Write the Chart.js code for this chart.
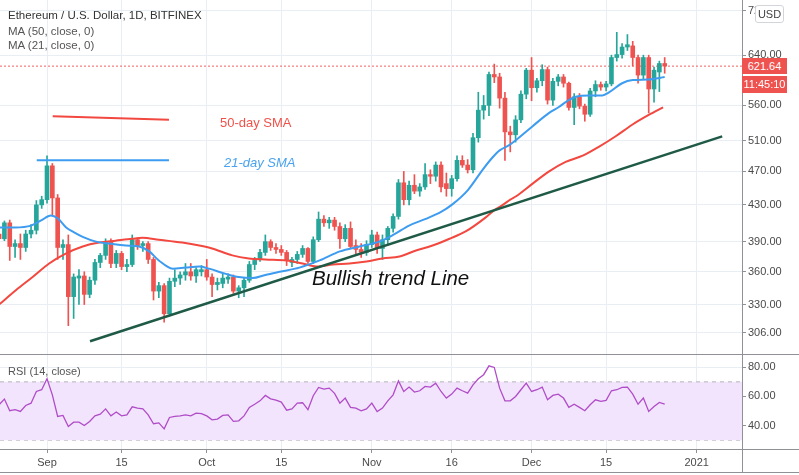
<!DOCTYPE html>
<html>
<head>
<meta charset="utf-8">
<title>Ethereum / U.S. Dollar, 1D</title>
<script src="https://cdn.jsdelivr.net/npm/chart.js@4.4.0/dist/chart.umd.min.js"></script>
<style>
  html, body { margin: 0; padding: 0; background: #fff; }
  #wrap { position: relative; width: 799px; height: 475px; overflow: hidden; font-family: 'Liberation Sans', Arial, sans-serif; }
  #priceChart { position: absolute; left: 0; top: 0; }
  #rsiChart { position: absolute; left: 0; top: 355px; }
  .txt { position: absolute; white-space: nowrap; line-height: 16px; height: 16px; }
  .hline { position: absolute; left: 0; width: 799px; height: 1px; background: #8f9196; }
  .vline { position: absolute; width: 1px; background: #8f9196; }
  .tag { position: absolute; color: #fff; background: #ef5350; font-size: 11px; text-align: center; }
</style>
</head>
<body>
<div id="wrap">
  <canvas id="priceChart" width="799" height="355"></canvas>
  <canvas id="rsiChart" width="799" height="120"></canvas>

  <div class="txt" style="left:8px; top:7px; font-size:11.5px; color:#333;">Ethereum / U.S. Dollar, 1D, BITFINEX</div>
  <div class="txt" style="left:8px; top:23px; font-size:11.5px; color:#555;">MA (50, close, 0)</div>
  <div class="txt" style="left:8px; top:37px; font-size:11.5px; color:#555;">MA (21, close, 0)</div>
  <div class="txt" style="left:8px; top:363px; font-size:11px; color:#555;">RSI (14, close)</div>

  <div class="txt" style="left:220px; top:115px; font-size:13px; color:#f0524a;">50-day SMA</div>
  <div class="txt" style="left:224px; top:155px; font-size:13px; color:#4aa3ee; font-style:italic;">21-day SMA</div>
  <div class="txt" style="left:312px; top:267px; height:22px; line-height:22px; font-size:20.5px; color:#111; font-style:italic;">Bullish trend Line</div>

  <div class="hline" style="top:354px;"></div>
  <div class="hline" style="top:449px;"></div>
  <div class="hline" style="top:472px;"></div>
  <div class="vline" style="left:742px; top:0; height:473px;"></div>

  <div class="tag" style="left:742px; top:58px; width:45px; height:16px; line-height:16px;">621.64</div>
  <div class="tag" style="left:742px; top:76px; width:45px; height:17px; line-height:17px;">11:45:10</div>
  <div class="txt" style="left:755px; top:5px; width:27px; height:16px; background:#fff; border:1px solid #d3d5da; border-radius:3px; font-size:11px; color:#444; text-align:center;">USD</div>
</div>

<script>
// days counted from Sep 1 2020 (day 0); first candle is Aug 23
const firstDay = -9;

const opens = [
  398, 393, 410, 385, 388, 384, 398, 402, 430,
  436, 477, 438, 384, 387, 337, 354, 356, 339, 352,
  369, 376, 390, 368, 378, 365, 367, 392, 386, 388,
  372, 342, 347, 322, 351, 354, 357, 360, 356, 360,
  362, 355, 348, 349, 353, 355, 342, 345, 352, 367,
  372, 379, 390, 384, 382, 379, 369, 372, 377, 383,
  370, 392, 414, 410, 413, 406, 393, 404, 386, 382,
  379, 387, 397, 383, 392, 404, 417, 456, 436, 453,
  446, 451, 466, 464, 478, 455, 449, 461, 484, 478,
  472, 514, 553, 560, 608, 604, 571, 522, 518, 539,
  577, 615, 587, 598, 616, 568, 597, 604, 594, 557,
  573, 559, 547, 582, 592, 588, 593, 636, 641, 654,
  656, 636, 607, 636, 585, 612, 626
];
const highs = [
  402, 412, 413, 392, 398, 402, 408, 435, 440,
  490, 480, 442, 392, 397, 358, 362, 360, 355, 372,
  378, 393, 393, 381, 380, 372, 397, 394, 390, 390,
  374, 350, 349, 354, 362, 360, 368, 368, 364, 366,
  372, 358, 354, 358, 358, 357, 347, 354, 370, 374,
  382, 397, 392, 388, 386, 381, 374, 380, 386, 384,
  395, 422, 418, 416, 416, 410, 408, 411, 392, 388,
  391, 402, 400, 397, 406, 420, 460, 470, 458, 466,
  455, 480, 472, 482, 482, 468, 465, 490, 490, 485,
  520, 580, 575, 612, 625, 610, 580, 530, 545, 582,
  618, 636, 602, 624, 620, 602, 608, 608, 596, 578,
  578, 562, 586, 598, 596, 597, 640, 680, 660, 676,
  664, 640, 640, 640, 620, 630, 636
];
const lows = [
  390, 391, 371, 374, 372, 380, 394, 398, 426,
  432, 418, 372, 372, 312, 318, 330, 330, 336, 348,
  364, 372, 364, 364, 362, 360, 365, 382, 380, 368,
  334, 336, 315, 320, 346, 348, 352, 352, 350, 356,
  352, 337, 343, 345, 349, 340, 336, 337, 350, 362,
  370, 376, 381, 378, 376, 366, 365, 368, 374, 368,
  368, 390, 406, 404, 402, 383, 390, 383, 377, 374,
  376, 384, 378, 372, 386, 400, 414, 430, 430, 443,
  440, 448, 455, 458, 445, 440, 440, 458, 475, 468,
  468, 508, 540, 545, 595, 556, 484, 495, 508, 535,
  570, 567, 580, 590, 562, 560, 590, 588, 553, 532,
  555, 537, 544, 573, 583, 582, 590, 630, 635, 648,
  622, 594, 600, 549, 565, 581, 610
];
const closes = [
  393, 410, 385, 388, 384, 398, 402, 430, 436,
  477, 438, 384, 387, 337, 355, 356, 339, 352, 369,
  376, 390, 368, 378, 365, 367, 392, 386, 388, 372,
  342, 347, 322, 351, 354, 357, 360, 356, 362, 362,
  355, 348, 350, 354, 355, 342, 345, 352, 367, 371,
  379, 390, 384, 382, 379, 371, 372, 377, 383, 370,
  392, 414, 410, 413, 406, 393, 404, 385, 382, 379,
  387, 397, 383, 392, 404, 417, 456, 436, 453, 446,
  451, 466, 464, 478, 451, 449, 461, 484, 478, 472,
  514, 553, 560, 608, 604, 571, 522, 518, 539, 577,
  615, 587, 598, 616, 568, 597, 604, 594, 557, 573,
  559, 547, 582, 592, 588, 593, 636, 641, 654, 658,
  636, 607, 636, 585, 615, 626, 621.64
];

const rsiValues = [
  54.3, 58.2, 50.2, 50.9, 49.7, 53.8, 55.4, 63.4, 64.6,
  72.1, 61.1, 46.3, 47.0, 39.4, 42.4, 42.4, 40.1, 42.9, 46.7,
  47.9, 51.5, 46.7, 49.3, 46.7, 47.4, 52.9, 52.0, 51.5, 47.4,
  41.3, 41.9, 37.8, 45.6, 46.3, 46.7, 47.4, 46.7, 48.6, 48.3,
  46.7, 44.0, 44.5, 47.0, 47.4, 42.9, 43.3, 46.7, 52.5, 54.7,
  57.0, 60.7, 58.4, 57.5, 56.1, 50.6, 51.5, 55.4, 55.7, 50.9,
  60.5, 66.2, 65.0, 65.7, 62.1, 55.4, 58.9, 52.5, 52.0, 50.2,
  51.5, 55.4, 49.7, 52.0, 57.0, 61.1, 70.7, 63.4, 66.4, 63.0,
  63.9, 66.9, 66.4, 69.1, 63.4, 58.9, 61.6, 65.7, 63.9, 62.3,
  68.0, 72.1, 74.9, 81.0, 79.9, 65.7, 57.0, 57.0, 60.0, 64.6,
  69.1, 63.4, 64.6, 66.4, 57.7, 60.7, 61.6, 58.9, 52.5, 54.7,
  52.5, 50.2, 54.3, 57.7, 56.6, 57.3, 63.9, 64.6, 66.2, 66.4,
  61.6, 54.7, 58.9, 49.7, 53.1, 55.9, 54.7
];

// moving averages
const ma21Days = [-9, -6, -3, -1, 0.7, 2, 3.6, 5, 6.7, 9.2, 11.7, 14.8, 17.3, 19.2, 21, 23.6, 26, 28.6, 30.4, 33.6,
  36, 38.6, 41, 43.7, 47.4, 51.2, 55, 58.7, 62.4, 65, 68, 71, 74, 76, 79, 81.8, 83.7, 85, 86.8, 88.1,
  91.2, 94.3, 96.2, 97.4, 99.3, 101.8, 104.3, 105.6, 108, 110, 113, 116];
const ma21Values = [405, 405, 407, 413, 418, 415, 405, 400, 395, 390, 388, 386, 385, 380, 371, 363, 364, 365, 363, 358,
  355, 354, 357, 360, 364, 371, 380, 385, 390, 397, 407, 414, 422, 430, 447, 472, 488, 497, 504, 511,
  530, 549, 558, 565, 573, 575, 575, 580, 594, 599, 600, 604];
const ma50Days = [-9, -5.8, -2.7, 0.4, 3.6, 6.7, 9.8, 12.9, 16, 17.9, 21, 25.4, 28.6, 31, 34.8, 37.9, 41, 45, 48, 50.6,
  53.7, 56.8, 60, 63, 66.2, 69.3, 72.4, 75.6, 78.7, 82.4, 84, 85.6, 87, 88.1, 91.2, 94.3, 97.4, 100.6, 103.7, 106.8,
  109.9, 113, 115.7];
const ma50Values = [330, 343, 355, 368, 378, 385, 389, 391, 393, 394, 392, 389, 386, 383, 376, 373, 372, 371, 368, 365,
  367, 368, 370, 373, 375, 381, 386, 393, 401, 416, 424, 430, 436, 440, 455, 470, 482, 490, 502, 516,
  532, 546, 557];

// drawings
const trendDays = [8.08, 126.8];
const trendValues = [299.3, 515.9];
const note50Days = [1.07, 22.9];
const note50Values = [544, 539];
const note21Days = [-1.93, 22.9];
const note21Values = [484, 484];
const lastPrice = 621.64;

const priceTicks = [306, 330, 360, 390, 430, 470, 510, 560, 640, 720];
const rsiTicks = [40, 60, 80];
const tickDays = [0, 14, 30, 44, 61, 76, 91, 105, 122];
const tickNames = ['Sep', '15', 'Oct', '15', 'Nov', '16', 'Dec', '15', '2021'];

const xMin = -8.83, xMax = 130.52;
const up = '#26a69a', down = '#ef5350';
const gridColor = '#e9eef4';

Chart.defaults.font.family = "'Liberation Sans', Arial, sans-serif";
Chart.defaults.font.size = 11;
Chart.defaults.color = '#4a4a4a';

const pts = (days, vals) => days.map((d, i) => ({ x: d, y: vals[i] }));
const candleColors = opens.map((o, i) => closes[i] >= o ? up : down);
const bodies = opens.map((o, i) => ({ x: firstDay + i, y: [o, closes[i]] }));
const wicks = opens.map((o, i) => ({ x: firstDay + i, y: [lows[i], highs[i]] }));

// no extra room for labels: the plot must fill the canvas exactly
function noPadding(s) {
  s.paddingTop = 0; s.paddingBottom = 0; s.paddingLeft = 0; s.paddingRight = 0;
}

function xAxis(showLabels) {
  return {
    type: 'linear', min: xMin, max: xMax, offset: false,
    grid: { color: gridColor, offset: false, drawTicks: showLabels, tickLength: 4, tickColor: '#8f9196' },
    border: { display: false },
    ticks: {
      display: showLabels, autoSkip: false, maxRotation: 0, padding: 3,
      callback: (v, i) => tickNames[i]
    },
    afterBuildTicks: s => { s.ticks = tickDays.map(v => ({ value: v })); },
    afterFit: s => { s.height = showLabels ? 26 : 0; noPadding(s); }
  };
}

function yAxis(extra) {
  return Object.assign({
    position: 'right',
    grid: { color: gridColor, tickLength: 4, tickColor: '#8f9196' },
    border: { display: false },
    ticks: { autoSkip: false, padding: 2, callback: v => Number(v).toFixed(2) },
    afterFit: s => { s.width = 57; noPadding(s); }
  }, extra);
}

new Chart(document.getElementById('priceChart'), {
  type: 'bar',
  data: {
    datasets: [
      { type: 'line', data: pts(trendDays, trendValues), borderColor: '#1f5a46', borderWidth: 2.5, pointRadius: 0, order: 0 },
      { type: 'line', data: pts(ma21Days, ma21Values), borderColor: '#3d9cf0', borderWidth: 2, pointRadius: 0, cubicInterpolationMode: 'monotone', order: 0 },
      { type: 'line', data: pts(ma50Days, ma50Values), borderColor: '#f2483f', borderWidth: 2, pointRadius: 0, cubicInterpolationMode: 'monotone', order: 0 },
      { type: 'line', data: pts(note50Days, note50Values), borderColor: '#f2483f', borderWidth: 2, pointRadius: 0, order: 0 },
      { type: 'line', data: pts(note21Days, note21Values), borderColor: '#3d9cf0', borderWidth: 2, pointRadius: 0, order: 0 },
      { type: 'line', data: [{ x: xMin, y: lastPrice }, { x: xMax, y: lastPrice }], borderColor: '#f0605c', borderWidth: 1, borderDash: [2, 2], pointRadius: 0, order: 3 },
      { data: bodies, backgroundColor: candleColors, barThickness: 4, grouped: false, minBarLength: 1, order: 1 },
      { data: wicks, backgroundColor: candleColors, barThickness: 1, grouped: false, order: 2 }
    ]
  },
  options: {
    responsive: false, animation: false,
    layout: { padding: 0 },
    plugins: { legend: { display: false }, tooltip: { enabled: false } },
    scales: {
      x: xAxis(false),
      y: yAxis({
        type: 'logarithmic', min: 288.6, max: 741,
        afterBuildTicks: s => { s.ticks = priceTicks.map(v => ({ value: v })); }
      })
    }
  }
});

new Chart(document.getElementById('rsiChart'), {
  type: 'line',
  data: {
    datasets: [
      { data: rsiValues.map((v, i) => ({ x: firstDay + i, y: v })), borderColor: '#b04cc8', borderWidth: 1.3, pointRadius: 0, order: 0 },
      { data: [{ x: xMin, y: 70 }, { x: xMax, y: 70 }], borderColor: '#b5b5b9', borderWidth: 1, borderDash: [4, 4], pointRadius: 0, fill: '+1', backgroundColor: '#f2e4fc', order: 1 },
      { data: [{ x: xMin, y: 30 }, { x: xMax, y: 30 }], borderColor: '#b5b5b9', borderWidth: 1, borderDash: [4, 4], pointRadius: 0, order: 2 }
    ]
  },
  options: {
    responsive: false, animation: false,
    layout: { padding: 0 },
    plugins: { legend: { display: false }, tooltip: { enabled: false } },
    scales: {
      x: xAxis(true),
      y: yAxis({
        type: 'linear', min: 24.0, max: 88.4,
        afterBuildTicks: s => { s.ticks = rsiTicks.map(v => ({ value: v })); }
      })
    }
  }
});
</script>
</body>
</html>
